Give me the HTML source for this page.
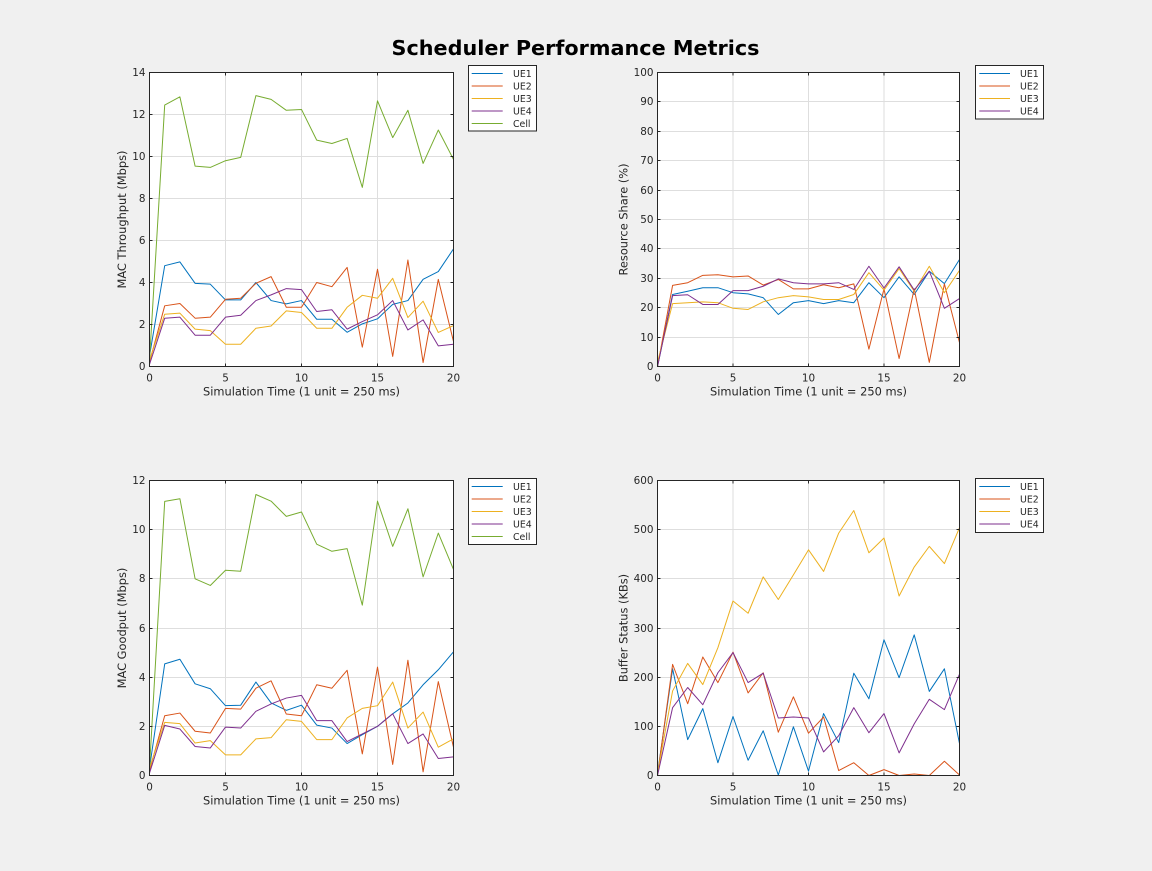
<!DOCTYPE html>
<html><head><meta charset="utf-8"><style>
html,body{margin:0;padding:0;background:#f0f0f0;}
svg{display:block;}
text{font-family:"DejaVu Sans","Liberation Sans",sans-serif;fill:#262626;}
.tk{font-size:10.4px;}
.lb{font-size:11.4px;}
.lg{font-size:9.4px;}
.grid{stroke:#dedede;stroke-width:1;fill:none;}
.tick{stroke:#262626;stroke-width:1;fill:none;}
.box{stroke:#262626;stroke-width:1;fill:none;}
.d{fill:none;stroke-width:1;vector-effect:non-scaling-stroke;stroke-linejoin:round;}
.c1{stroke:#0072BD}.c2{stroke:#D95319}.c3{stroke:#EDB120}.c4{stroke:#7E2F8E}.c5{stroke:#77AC30}
</style></head><body>
<svg width="1152" height="871" viewBox="0 0 1152 871" xmlns="http://www.w3.org/2000/svg">
<rect x="0" y="0" width="1152" height="871" fill="#f0f0f0"/>
<text x="575.5" y="55" text-anchor="middle" style="font-size:20.8px;font-weight:bold;fill:#000" textLength="368" lengthAdjust="spacingAndGlyphs">Scheduler Performance Metrics</text>

<!-- ============ TOP LEFT ============ -->
<rect x="149.5" y="72.5" width="304" height="294" fill="#fff"/>
<path class="grid" d="M225.5 72.5V366.5M301.5 72.5V366.5M377.5 72.5V366.5M149.5 324.5H453.5M149.5 282.5H453.5M149.5 240.5H453.5M149.5 198.5H453.5M149.5 156.5H453.5M149.5 114.5H453.5"/>
<g transform="translate(149.5,366.5) scale(15.2,-21)">
<polyline class="d c1" points="0,0.5 1,4.8 2,4.98 3,3.96 4,3.92 5,3.17 6,3.17 7,4.0 8,3.14 9,2.98 10,3.14 11,2.25 12,2.25 13,1.63 14,2.03 15,2.27 16,2.96 17,3.14 18,4.15 19,4.52 20,5.6"/>
<polyline class="d c2" points="0,0.2 1,2.89 2,3.0 3,2.3 4,2.35 5,3.2 6,3.25 7,3.96 8,4.28 9,2.82 10,2.82 11,4.0 12,3.8 13,4.72 14,0.92 15,4.63 16,0.48 17,5.07 18,0.19 19,4.15 20,1.19"/>
<polyline class="d c3" points="0,0.3 1,2.49 2,2.54 3,1.78 4,1.71 5,1.06 6,1.06 7,1.82 8,1.93 9,2.65 10,2.57 11,1.82 12,1.82 13,2.82 14,3.39 15,3.25 16,4.2 17,2.33 18,3.11 19,1.62 20,1.95"/>
<polyline class="d c4" points="0,0.1 1,2.3 2,2.35 3,1.49 4,1.49 5,2.35 6,2.44 7,3.14 8,3.41 9,3.71 10,3.66 11,2.62 12,2.7 13,1.78 14,2.14 15,2.46 16,3.14 17,1.74 18,2.22 19,0.98 20,1.06"/>
<polyline class="d c5" points="0,0.3 1,12.45 2,12.84 3,9.54 4,9.48 5,9.8 6,9.96 7,12.9 8,12.72 9,12.2 10,12.24 11,10.78 12,10.62 13,10.86 14,8.53 15,12.65 16,10.9 17,12.2 18,9.67 19,11.26 20,9.86"/>
</g>
<path class="tick" d="M149.5 324.5h3M149.5 282.5h3M149.5 240.5h3M149.5 198.5h3M149.5 156.5h3M149.5 114.5h3M453.5 324.5h-3M453.5 282.5h-3M453.5 240.5h-3M453.5 198.5h-3M453.5 156.5h-3M453.5 114.5h-3M225.5 366.5v-3M301.5 366.5v-3M377.5 366.5v-3M225.5 72.5v3M301.5 72.5v3M377.5 72.5v3"/>
<rect class="box" x="149.5" y="72.5" width="304" height="294"/>
<g class="tk" text-anchor="end">
<text x="145.5" y="370.2">0</text><text x="145.5" y="328.2">2</text><text x="145.5" y="286.2">4</text><text x="145.5" y="244.2">6</text><text x="145.5" y="202.2">8</text><text x="145.5" y="160.2">10</text><text x="145.5" y="118.2">12</text><text x="145.5" y="76.2">14</text>
</g>
<g class="tk" text-anchor="middle">
<text x="149.5" y="381.5">0</text><text x="225.5" y="381.5">5</text><text x="301.5" y="381.5">10</text><text x="377.5" y="381.5">15</text><text x="453.5" y="381.5">20</text>
</g>
<text class="lb" x="301.5" y="395.5" text-anchor="middle" textLength="197" lengthAdjust="spacingAndGlyphs">Simulation Time (1 unit = 250 ms)</text>
<text class="lb" transform="translate(126,219.5) rotate(-90)" text-anchor="middle" textLength="138" lengthAdjust="spacingAndGlyphs">MAC Throughput (Mbps)</text>
<rect x="468.5" y="65.5" width="68" height="65.5" fill="#fff" stroke="#262626" stroke-width="1"/>
<path class="c1" d="M471.7 73.5H502.7" stroke-width="1"/><path class="c2" d="M471.7 86H502.7"/><path class="c3" d="M471.7 98.5H502.7"/><path class="c4" d="M471.7 111H502.7"/><path class="c5" d="M471.7 123.5H502.7"/>
<g class="lg"><text x="513" y="76.8">UE1</text><text x="513" y="89.3">UE2</text><text x="513" y="101.8">UE3</text><text x="513" y="114.3">UE4</text><text x="513" y="126.8">Cell</text></g>

<!-- ============ TOP RIGHT ============ -->
<rect x="657.5" y="72.5" width="302" height="294" fill="#fff"/>
<path class="grid" d="M733 72.5V366.5M808.5 72.5V366.5M884 72.5V366.5M657.5 337.5H959.5M657.5 307.5H959.5M657.5 278.5H959.5M657.5 248.5H959.5M657.5 219.5H959.5M657.5 190.5H959.5M657.5 160.5H959.5M657.5 131.5H959.5M657.5 101.5H959.5"/>
<g transform="translate(657.5,366.5) scale(15.1,-2.94)">
<polyline class="d c1" points="0,0 1,24.5 2,25.6 3,26.8 4,26.8 5,25.1 6,24.7 7,23.4 8,17.7 9,21.7 10,22.4 11,21.4 12,22.4 13,21.7 14,28.5 15,23.4 16,30.5 17,24.5 18,32.4 19,28.2 20,36.4"/>
<polyline class="d c2" points="0,0 1,27.6 2,28.5 3,31.0 4,31.2 5,30.5 6,30.8 7,27.7 8,29.6 9,26.4 10,26.4 11,27.8 12,26.8 13,28.1 14,5.9 15,26.4 16,2.7 17,26.4 18,1.4 19,28.1 20,8.1"/>
<polyline class="d c3" points="0,1.5 1,21.4 2,21.7 3,22.0 4,21.7 5,19.8 6,19.4 7,22.0 8,23.4 9,24.1 10,23.7 11,22.8 12,22.8 13,24.5 14,31.9 15,26.0 16,33.3 17,25.6 18,34.1 19,25.1 20,32.7"/>
<polyline class="d c4" points="0,0 1,24.1 2,24.4 3,21.1 4,21.1 5,25.8 6,25.8 7,27.3 8,29.8 9,28.5 10,28.1 11,28.1 12,28.5 13,26.2 14,34.1 15,26.7 16,33.9 17,26.0 18,32.4 19,19.8 20,23.1"/>
</g>
<path class="tick" d="M657.5 337.5h3M657.5 307.5h3M657.5 278.5h3M657.5 248.5h3M657.5 219.5h3M657.5 190.5h3M657.5 160.5h3M657.5 131.5h3M657.5 101.5h3M959.5 337.5h-3M959.5 307.5h-3M959.5 278.5h-3M959.5 248.5h-3M959.5 219.5h-3M959.5 190.5h-3M959.5 160.5h-3M959.5 131.5h-3M959.5 101.5h-3M733 366.5v-3M808.5 366.5v-3M884 366.5v-3M733 72.5v3M808.5 72.5v3M884 72.5v3"/>
<rect class="box" x="657.5" y="72.5" width="302" height="294"/>
<g class="tk" text-anchor="end">
<text x="653.5" y="370.2">0</text><text x="653.5" y="341.2">10</text><text x="653.5" y="311.2">20</text><text x="653.5" y="282.2">30</text><text x="653.5" y="252.2">40</text><text x="653.5" y="223.2">50</text><text x="653.5" y="194.2">60</text><text x="653.5" y="164.2">70</text><text x="653.5" y="135.2">80</text><text x="653.5" y="105.2">90</text><text x="653.5" y="76.2">100</text>
</g>
<g class="tk" text-anchor="middle">
<text x="657.5" y="381.5">0</text><text x="733" y="381.5">5</text><text x="808.5" y="381.5">10</text><text x="884" y="381.5">15</text><text x="959.5" y="381.5">20</text>
</g>
<text class="lb" x="808.5" y="395.5" text-anchor="middle" textLength="197" lengthAdjust="spacingAndGlyphs">Simulation Time (1 unit = 250 ms)</text>
<text class="lb" transform="translate(627.5,219.5) rotate(-90)" text-anchor="middle">Resource Share (%)</text>
<rect x="975.5" y="65.5" width="68" height="53.5" fill="#fff" stroke="#262626" stroke-width="1"/>
<path class="c1" d="M979.3 73.5H1010"/><path class="c2" d="M979.3 86H1010"/><path class="c3" d="M979.3 98.5H1010"/><path class="c4" d="M979.3 111H1010"/>
<g class="lg"><text x="1020" y="76.8">UE1</text><text x="1020" y="89.3">UE2</text><text x="1020" y="101.8">UE3</text><text x="1020" y="114.3">UE4</text></g>

<!-- ============ BOTTOM LEFT ============ -->
<rect x="149.5" y="480.5" width="304" height="295" fill="#fff"/>
<path class="grid" d="M225.5 480.5V775.5M301.5 480.5V775.5M377.5 480.5V775.5M149.5 726.5H453.5M149.5 677.5H453.5M149.5 628.5H453.5M149.5 578.5H453.5M149.5 529.5H453.5"/>
<g transform="translate(149.5,775.5) scale(15.2,-24.583)">
<polyline class="d c1" points="0,0.3 1,4.54 2,4.73 3,3.73 4,3.53 5,2.84 6,2.86 7,3.8 8,2.95 9,2.65 10,2.86 11,2.05 12,1.93 13,1.3 14,1.66 15,2.0 16,2.51 17,2.95 18,3.69 19,4.3 20,5.03"/>
<polyline class="d c2" points="0,0.2 1,2.43 2,2.54 3,1.8 4,1.73 5,2.73 6,2.7 7,3.55 8,3.85 9,2.5 10,2.43 11,3.69 12,3.55 13,4.28 14,0.88 15,4.41 16,0.45 17,4.69 18,0.15 19,3.82 20,1.15"/>
<polyline class="d c3" points="0,0.3 1,2.16 2,2.11 3,1.32 4,1.42 5,0.84 6,0.84 7,1.49 8,1.54 9,2.27 10,2.2 11,1.46 12,1.46 13,2.34 14,2.73 15,2.84 16,3.8 17,1.93 18,2.58 19,1.15 20,1.49"/>
<polyline class="d c4" points="0,0.1 1,2.04 2,1.89 3,1.18 4,1.12 5,1.97 6,1.93 7,2.61 8,2.91 9,3.15 10,3.26 11,2.23 12,2.23 13,1.38 14,1.69 15,2.0 16,2.51 17,1.3 18,1.69 19,0.69 20,0.76"/>
<polyline class="d c5" points="0,0.3 1,11.15 2,11.26 3,8.0 4,7.73 5,8.35 6,8.31 7,11.43 8,11.16 9,10.54 10,10.72 11,9.41 12,9.12 13,9.23 14,6.93 15,11.16 16,9.32 17,10.85 18,8.08 19,9.86 20,8.38"/>
</g>
<path class="tick" d="M149.5 726.5h3M149.5 677.5h3M149.5 628.5h3M149.5 578.5h3M149.5 529.5h3M453.5 726.5h-3M453.5 677.5h-3M453.5 628.5h-3M453.5 578.5h-3M453.5 529.5h-3M225.5 775.5v-3M301.5 775.5v-3M377.5 775.5v-3M225.5 480.5v3M301.5 480.5v3M377.5 480.5v3"/>
<rect class="box" x="149.5" y="480.5" width="304" height="295"/>
<g class="tk" text-anchor="end">
<text x="145.5" y="779.2">0</text><text x="145.5" y="730.2">2</text><text x="145.5" y="681.2">4</text><text x="145.5" y="632.2">6</text><text x="145.5" y="582.2">8</text><text x="145.5" y="533.2">10</text><text x="145.5" y="484.2">12</text>
</g>
<g class="tk" text-anchor="middle">
<text x="149.5" y="790.5">0</text><text x="225.5" y="790.5">5</text><text x="301.5" y="790.5">10</text><text x="377.5" y="790.5">15</text><text x="453.5" y="790.5">20</text>
</g>
<text class="lb" x="301.5" y="804.5" text-anchor="middle" textLength="197" lengthAdjust="spacingAndGlyphs">Simulation Time (1 unit = 250 ms)</text>
<text class="lb" transform="translate(126,628) rotate(-90)" text-anchor="middle">MAC Goodput (Mbps)</text>
<rect x="468.5" y="478.5" width="68" height="66" fill="#fff" stroke="#262626" stroke-width="1"/>
<path class="c1" d="M471.7 486.5H502.7"/><path class="c2" d="M471.7 499H502.7"/><path class="c3" d="M471.7 511.5H502.7"/><path class="c4" d="M471.7 524H502.7"/><path class="c5" d="M471.7 536.5H502.7"/>
<g class="lg"><text x="513" y="489.8">UE1</text><text x="513" y="502.3">UE2</text><text x="513" y="514.8">UE3</text><text x="513" y="527.3">UE4</text><text x="513" y="539.8">Cell</text></g>

<!-- ============ BOTTOM RIGHT ============ -->
<rect x="657.5" y="480.5" width="302" height="295" fill="#fff"/>
<path class="grid" d="M733 480.5V775.5M808.5 480.5V775.5M884 480.5V775.5M657.5 726.5H959.5M657.5 677.5H959.5M657.5 628.5H959.5M657.5 578.5H959.5M657.5 529.5H959.5"/>
<g transform="translate(657.5,775.5) scale(15.1,-0.49167)">
<polyline class="d c1" points="0,4 1,217 2,73 3,136 4,26 5,120 6,31 7,91 8,1 9,99 10,9 11,126 12,67 13,208 14,156 15,276 16,199 17,286 18,171 19,217 20,65"/>
<polyline class="d c2" points="0,0 1,226 2,146 3,241 4,189 5,251 6,168 7,209 8,88 9,160 10,86 11,119 12,10 13,26 14,0 15,12 16,0 17,3 18,0 19,29 20,1"/>
<polyline class="d c3" points="0,4 1,172 2,228 3,185 4,260 5,355 6,330 7,404 8,358 9,408 10,459 11,415 12,493 13,539 14,453 15,483 16,365 17,424 18,466 19,431 20,504"/>
<polyline class="d c4" points="0,0 1,138 2,179 3,144 4,209 5,250 6,189 7,208 8,117 9,119 10,117 11,48 12,81 13,138 14,87 15,126 16,46 17,105 18,155 19,134 20,206"/>
</g>
<path class="tick" d="M657.5 726.5h3M657.5 677.5h3M657.5 628.5h3M657.5 578.5h3M657.5 529.5h3M959.5 726.5h-3M959.5 677.5h-3M959.5 628.5h-3M959.5 578.5h-3M959.5 529.5h-3M733 775.5v-3M808.5 775.5v-3M884 775.5v-3M733 480.5v3M808.5 480.5v3M884 480.5v3"/>
<rect class="box" x="657.5" y="480.5" width="302" height="295"/>
<g class="tk" text-anchor="end">
<text x="653.5" y="779.2">0</text><text x="653.5" y="730.2">100</text><text x="653.5" y="681.2">200</text><text x="653.5" y="632.2">300</text><text x="653.5" y="582.2">400</text><text x="653.5" y="533.2">500</text><text x="653.5" y="484.2">600</text>
</g>
<g class="tk" text-anchor="middle">
<text x="657.5" y="790.5">0</text><text x="733" y="790.5">5</text><text x="808.5" y="790.5">10</text><text x="884" y="790.5">15</text><text x="959.5" y="790.5">20</text>
</g>
<text class="lb" x="808.5" y="804.5" text-anchor="middle" textLength="197" lengthAdjust="spacingAndGlyphs">Simulation Time (1 unit = 250 ms)</text>
<text class="lb" transform="translate(627.5,628) rotate(-90)" text-anchor="middle">Buffer Status (KBs)</text>
<rect x="975.5" y="478.5" width="68" height="54" fill="#fff" stroke="#262626" stroke-width="1"/>
<path class="c1" d="M979.3 486.5H1010"/><path class="c2" d="M979.3 499H1010"/><path class="c3" d="M979.3 511.5H1010"/><path class="c4" d="M979.3 524H1010"/>
<g class="lg"><text x="1020" y="489.8">UE1</text><text x="1020" y="502.3">UE2</text><text x="1020" y="514.8">UE3</text><text x="1020" y="527.3">UE4</text></g>
</svg>
</body></html>
